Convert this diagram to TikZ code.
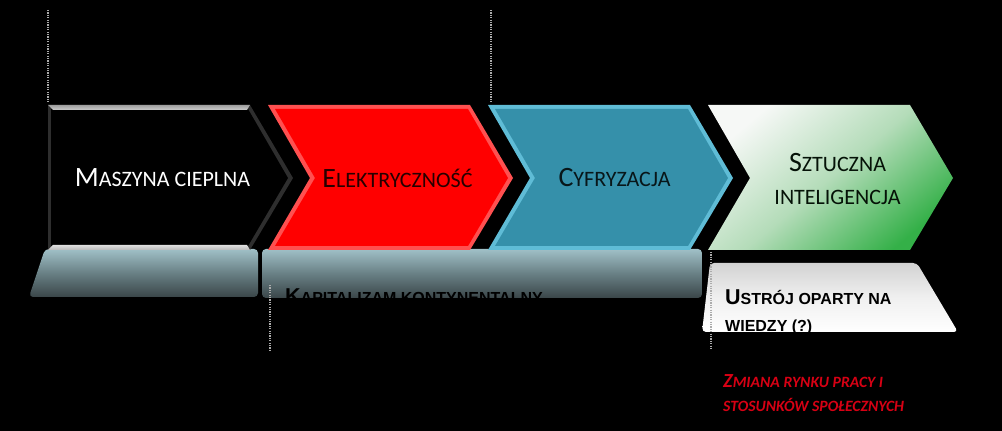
\documentclass[tikz,border=0pt]{standalone}
\usepackage{fontspec}
\setmainfont{Carlito}
\newfontfamily\headfont{Liberation Sans}

\definecolor{redface}{RGB}{255,0,0}
\definecolor{redbevel}{RGB}{255,80,80}
\definecolor{tealface}{RGB}{53,144,170}
\definecolor{tealbevel}{RGB}{95,188,214}
\definecolor{greenlite}{RGB}{246,248,246}
\definecolor{greenmid}{RGB}{180,220,185}
\definecolor{greendark}{RGB}{52,176,72}
\definecolor{bandtop}{RGB}{160,192,199}
\definecolor{bandmid}{RGB}{105,128,133}
\definecolor{bandbot}{RGB}{58,70,73}
\definecolor{warnred}{RGB}{215,0,20}

% fake small caps in the three text styles
\newcommand{\stagesc}[2]{{\fontsize{28}{31}\selectfont #1}{\fontsize{22}{26}\selectfont #2}}
\newcommand{\systemsc}[2]{{\headfont\bfseries{\fontsize{21.5}{24}\selectfont #1}{\fontsize{16}{18}\selectfont #2}}}
\newcommand{\effectsc}[2]{{\bfseries\itshape{\fontsize{20}{23}\selectfont #1}{\fontsize{15.7}{18}\selectfont #2}}}

\tikzset{
  guide/.style={gray!65, line width=1.4pt, dash pattern=on 1.3pt off 1.1pt},
  bandshade/.style={top color=bandtop, bottom color=bandbot, middle color=bandmid, rounded corners=4pt},
  stagelabel/.style={anchor=base, inner sep=0pt},
  leftlabel/.style={anchor=base west, inner sep=0pt},
}

\begin{document}
\begin{tikzpicture}[x=1pt, y=1pt]
    \useasboundingbox (0,0) rectangle (1002,431);
    \fill[black] (0,0) rectangle (1002,431);

    \coordinate (g1t) at (48,421);
    \coordinate (g1b) at (48,329);
    \coordinate (g2t) at (491,421);
    \coordinate (g2b) at (491,329);
    \coordinate (g3t) at (270,146);
    \coordinate (g3b) at (270,81);
    \coordinate (g4t) at (711,179);
    \coordinate (g4b) at (711,81);

    % bands under the stages
    \shade[bandshade] (45,182) -- (258,182) -- (258,134) -- (29,134) -- cycle;
    \shade[bandshade] (262,182) -- (702,182) -- (702,133) -- (262,133) -- cycle;
    \shade[top color=gray!35, bottom color=white, middle color=gray!12, rounded corners=4pt]
        (710,168) -- (917,168) -- (958,99) -- (702,99) -- cycle;

    % stage 1
    \fill[black!82!white] (48,326) -- (250,326) -- (293,253) -- (250,181) -- (48,181) -- cycle;
    \fill[black] (51,322) -- (248,322) -- (288,253) -- (248,185) -- (51,185) -- cycle;
    \shade[top color=gray!75, bottom color=gray!40] (48,326) -- (250,326) -- (247,321) -- (53,321) -- cycle;
    \shade[top color=gray!25, bottom color=gray!55] (53,186) -- (247,186) -- (250,181) -- (48,181) -- cycle;
    % stage 2
    \begin{scope}[xshift=268pt]
        \fill[redbevel] (0,326) -- (202,326) -- (245,253) -- (202,181) -- (0,181) -- (42,253) -- cycle;
        \fill[redface] (7,322) -- (200,322) -- (240,253) -- (200,185) -- (7,185) -- (47,253) -- cycle;
    \end{scope}
    % stage 3
    \begin{scope}[xshift=488pt]
        \fill[tealbevel] (0,326) -- (202,326) -- (245,253) -- (202,181) -- (0,181) -- (42,253) -- cycle;
        \fill[tealface] (7,322) -- (200,322) -- (240,253) -- (200,185) -- (7,185) -- (47,253) -- cycle;
    \end{scope}
    % stage 4
    \begin{scope}[xshift=708pt]
        \shade[top color=greenlite, bottom color=greendark, middle color=greenmid, shading angle=40]
            (0,326) -- (202,326) -- (245,253) -- (202,181) -- (0,181) -- (42,253) -- cycle;
    \end{scope}

    \node[stagelabel, white] (mach) at (162.5,244) {\stagesc{M}{ASZYNA CIEPLNA}};
    \node[stagelabel, black!85!red] (elec) at (397.5,243) {\stagesc{E}{LEKTRYCZNOŚĆ}};
    \node[stagelabel, black!85!tealface] (digi) at (614.5,244) {\stagesc{C}{YFRYZACJA}};
    \node[stagelabel, black!90!greendark] (ai1) at (837.5,259) {\stagesc{S}{ZTUCZNA}};
    \node[stagelabel, black!90!greendark] (ai2) at (837.5,226) {\stagesc{}{INTELIGENCJA}};

    \node[leftlabel, black] (capit) at (285,127) {\systemsc{K}{APITALIZAM KONTYNENTALNY}};
    \node[leftlabel, black] (ustr1) at (725,126) {\systemsc{U}{STRÓJ OPARTY NA}};
    \node[leftlabel, black] (ustr2) at (725,99) {\systemsc{}{WIEDZY (?)}};
    \node[leftlabel, warnred] (chg1) at (723,43) {\effectsc{Z}{MIANA RYNKU PRACY I}};
    \node[leftlabel, warnred] (chg2) at (723,19) {\effectsc{}{STOSUNKÓW SPOŁECZNYCH}};

    \draw[guide] (g1t) -- (g1b);
    \draw[guide] (g2t) -- (g2b);
    \draw[guide] (g3t) -- (g3b);
    \draw[guide] (g4t) -- (g4b);
\end{tikzpicture}
\end{document}
